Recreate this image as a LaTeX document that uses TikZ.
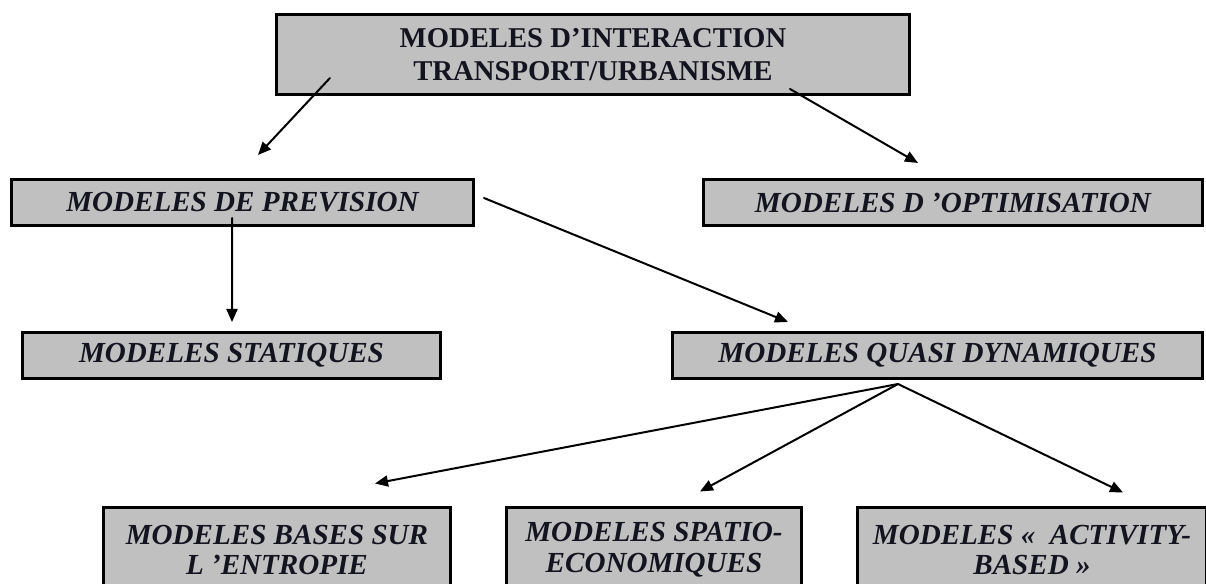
\documentclass[tikz,border=0pt]{standalone}
\usepackage{fontspec}
\setmainfont{Liberation Serif}
\usetikzlibrary{arrows.meta,calc}
\definecolor{boxgray}{HTML}{C0C0C0}
\definecolor{inkdark}{HTML}{141420}
\begin{document}
\begin{tikzpicture}[x=1bp,y=-1bp,
  box/.style={draw=black, line width=3bp, fill=boxgray, inner sep=0pt, align=center,
    text=inkdark, font=\fontsize{29.2}{31}\selectfont\bfseries\itshape},
  topbox/.style={box, font=\fontsize{28.8}{33}\selectfont\bfseries},
  conn/.style={line width=2bp, line cap=round, -{Triangle[length=13bp,width=11bp]}}]
\useasboundingbox (0,0) rectangle (1206,584);
\clip (0,0) rectangle (1206,584);

% boxes
\node[topbox, minimum width=633bp, minimum height=80bp] (top) at (593,54.5)
  {MODELES D’INTERACTION\\TRANSPORT/URBANISME};
\node[box, minimum width=462bp, minimum height=46bp] (prev) at (242.5,202.5)
  {MODELES DE PREVISION};
\node[box, minimum width=499bp, minimum height=46bp] (opt) at (953,202.5)
  {MODELES D ’OPTIMISATION};
\node[box, minimum width=418bp, minimum height=46bp] (stat) at (231.5,355.5)
  {MODELES STATIQUES};
\node[box, minimum width=530bp, minimum height=46bp] (qd) at (937.5,355.5)
  {MODELES QUASI DYNAMIQUES};
\node[box, minimum width=347bp, minimum height=86bp] (b1) at (277,550)
  {MODELES BASES SUR\\L ’ENTROPIE};
\node[box, minimum width=295bp, minimum height=86bp] (b2) at (654,550)
  {MODELES SPATIO-\\ECONOMIQUES};
\node[box, minimum width=349bp, minimum height=86bp] (b3) at (1032,550)
  {MODELES «\ \ ACTIVITY-\\BASED »};

% connector end points
\coordinate (a1s) at ($(top.south west)+(55,-18)$);
\coordinate (a1e) at ($(prev.north)+(15.5,-23)$);
\coordinate (a2s) at ($(top.south east)+(-121,-7)$);
\coordinate (a2e) at ($(opt.north)+(-35,-15)$);
\coordinate (a3s) at ($(prev.south)+(-10.5,-9)$);
\coordinate (a3e) at ($(stat.north)+(0.5,-9)$);
\coordinate (a4s) at ($(prev.east)+(9,-4.5)$);
\coordinate (a4e) at ($(qd.north)+(-149.5,-9)$);
\coordinate (apex) at ($(qd.south)+(-39.5,4)$);
\coordinate (a5e) at ($(b1.north)+(98,-22)$);
\coordinate (a6e) at ($(b2.north)+(46,-14)$);
\coordinate (a7e) at ($(b3.north)+(91,-13)$);

% connectors
\draw[conn] (a1s) -- (a1e);
\draw[conn] (a2s) -- (a2e);
\draw[conn] (a3s) -- (a3e);
\draw[conn] (a4s) -- (a4e);
\draw[conn] (apex) -- (a5e);
\draw[conn] (apex) -- (a6e);
\draw[conn] (apex) -- (a7e);
\end{tikzpicture}
\end{document}
